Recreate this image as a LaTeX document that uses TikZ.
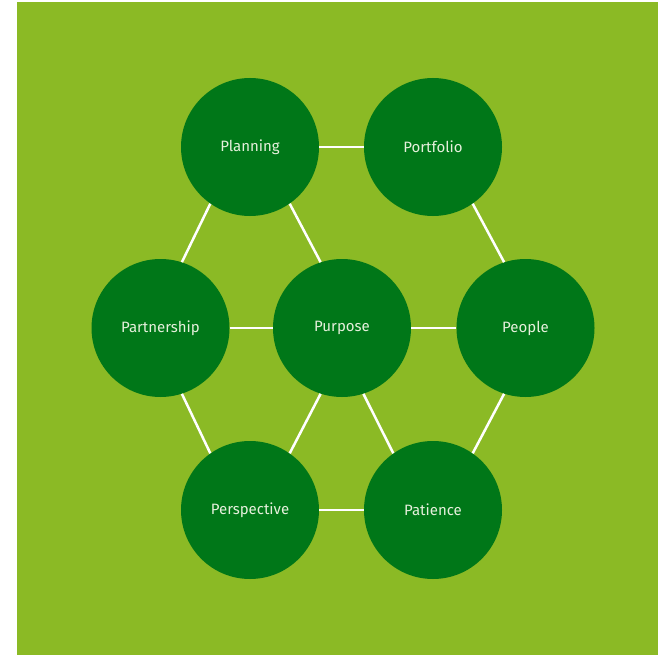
\documentclass[tikz,border=0pt]{standalone}
\usepackage{fontspec}
\setmainfont{Fira Sans}
\usepackage{xcolor}
\usetikzlibrary{positioning}
\definecolor{leafgreen}{HTML}{8BBA25}
\definecolor{darkgreen}{HTML}{007718}
\definecolor{paletext}{HTML}{E6F0DC}
\tikzset{
  valuecircle/.style={circle, fill=darkgreen, minimum size=138pt, inner sep=0pt, text=paletext, font=\fontsize{15}{17}\selectfont},
  valuelink/.style={draw=white, line width=2.5pt}
}

\begin{document}
\begin{tikzpicture}[x=1pt, y=-1pt]
  \useasboundingbox (0,0) rectangle (658,655);
  \fill[leafgreen] (17,2) rectangle (658,655);
  % top row
  \node[valuecircle] (planning) at (250,147) {Planning};
  \node[valuecircle] (portfolio) at (433,147) {Portfolio};
  % middle row
  \node[valuecircle] (partnership) at (160.5,328) {Partnership};
  \node[valuecircle] (purpose) at (342,328) {Purpose};
  \node[valuecircle] (people) at (525.5,328) {People};
  % bottom row
  \node[valuecircle] (perspective) at (250,510) {Perspective};
  \node[valuecircle] (patience) at (433,510) {Patience};
  % links
  \draw[valuelink] (planning) -- (portfolio);
  \draw[valuelink] (planning.-125) -- (partnership.72);
  \draw[valuelink] (planning.-55) -- (purpose.108);
  \draw[valuelink] (portfolio.-55) -- (people.108);
  \draw[valuelink] (partnership) -- (purpose);
  \draw[valuelink] (purpose) -- (people);
  \draw[valuelink] (partnership.-72) -- (perspective.125);
  \draw[valuelink] (purpose.-108) -- (perspective.55);
  \draw[valuelink] (purpose.-72) -- (patience.125);
  \draw[valuelink] (people.-108) -- (patience.55);
  \draw[valuelink] (perspective) -- (patience);
\end{tikzpicture}
\end{document}
